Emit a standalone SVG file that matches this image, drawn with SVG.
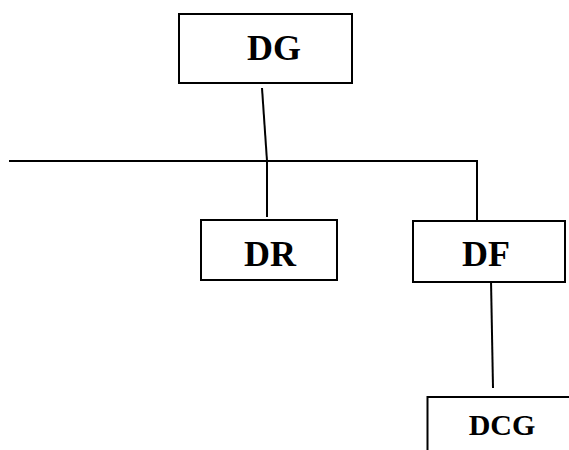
<svg xmlns="http://www.w3.org/2000/svg" width="569" height="450" viewBox="0 0 569 450">
<style>
.box{fill:#fff;stroke:#000;stroke-width:2}
.lbl{font-family:"Liberation Serif",serif;font-weight:bold;fill:#000;text-anchor:middle}
.c{stroke:#000;stroke-width:2;fill:none}
</style>
<rect width="569" height="450" fill="#fff"/>
<g id="connectors">
<line class="c" x1="262" y1="88" x2="267" y2="161"/>
<line class="c" x1="9" y1="161" x2="478" y2="161"/>
<line class="c" x1="267" y1="161" x2="267" y2="217"/>
<line class="c" x1="477" y1="160" x2="477" y2="221"/>
<line class="c" x1="491" y1="280" x2="493" y2="388"/>
</g>
<g id="node-DG">
<rect class="box" x="179" y="14" width="173" height="69"/>
<text class="lbl" x="274" y="60" font-size="36">DG</text>
</g>
<g id="node-DR">
<rect class="box" x="201" y="220" width="136" height="60"/>
<text class="lbl" x="270" y="266" font-size="36">DR</text>
</g>
<g id="node-DF">
<rect class="box" x="413" y="221" width="152" height="61"/>
<text class="lbl" x="486" y="266" font-size="36">DF</text>
</g>
<g id="node-DCG">
<path class="box" d="M427.5,451 V397 H570"/>
<text class="lbl" x="502" y="435" font-size="30">DCG</text>
</g>
</svg>
